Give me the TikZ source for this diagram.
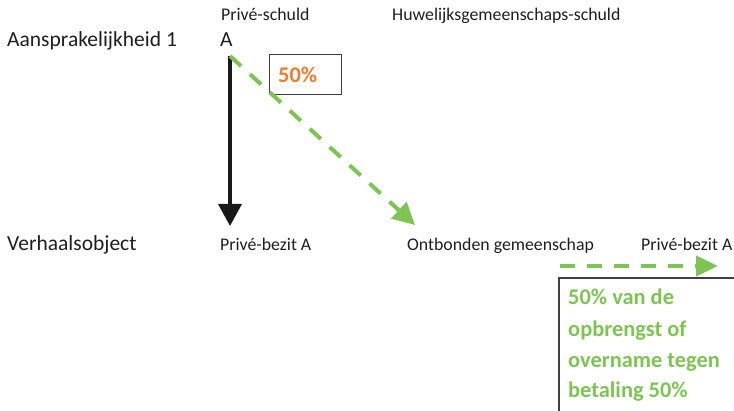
\documentclass[tikz,border=0pt]{standalone}
\usepackage{fontspec}
\setmainfont{Carlito}
\usetikzlibrary{arrows.meta}
\definecolor{gr}{RGB}{125,196,85}
\definecolor{orng}{RGB}{237,125,49}
\definecolor{txt}{RGB}{30,30,30}
\begin{document}
\begin{tikzpicture}[x=1pt,y=-1pt,
  big/.style={anchor=base west,inner sep=0pt,text=txt,font=\fontsize{21.5}{24}\selectfont},
  small/.style={anchor=base west,inner sep=0pt,text=txt,font=\fontsize{17.8}{20}\selectfont},
  boldtxt/.style={anchor=base west,inner sep=0pt,font=\fontsize{22.4}{24}\selectfont\bfseries},
  blackarrow/.style={line width=3.6pt,draw=black!90,-{Triangle[width=23pt,length=22pt]}},
  greenarrow/.style={line width=4pt,draw=gr,dash pattern=on 15pt off 12pt,-{Triangle[width=22pt,length=22pt]}},
  boxstyle/.style={draw=black!75,line width=1.2pt}]
\useasboundingbox (0,0) rectangle (734,411);
\clip (0,0) rectangle (734,411);
% top labels
\node[small] (ps) at (221,21) {Privé-schuld};
\node[small] (hs) at (392,21) {Huwelijksgemeenschaps-schuld};
\node[big] (aans) at (7,47) {Aansprakelijkheid\hspace{5pt}1};
\node[big] (A) at (220,47) {A};
% bottom labels
\node[big] (vo) at (7,251) {Verhaalsobject};
\node[small] (pb1) at (220,251) {Privé-bezit A};
\node[small] (og) at (407,251) {Ontbonden gemeenschap};
\node[small] (pb2) at (641,251) {Privé-bezit A};
% orange box
\draw[boxstyle,line width=1pt] (269,55) rectangle (341,95);
\node[boldtxt,text=orng] (p50) at (278,83) {50\%};
% arrows
\coordinate (s) at (230,56);
\coordinate (t1) at (230,226);
\coordinate (t2) at (415,225);
\coordinate (h1) at (560,266);
\coordinate (h2) at (718,266);
\draw[blackarrow] (s) -- (t1);
\draw[greenarrow] (s) -- (t2);
\draw[greenarrow,-{Triangle[width=20pt,length=22pt]}] (h1) -- (h2);
% green text box
\draw[boxstyle] (559,278) rectangle (745,425);
\node[boldtxt,text=gr] (gt1) at (568,305) {50\% van de};
\node[boldtxt,text=gr] (gt2) at (568,337) {opbrengst of};
\node[boldtxt,text=gr] (gt3) at (568,368) {overname tegen};
\node[boldtxt,text=gr] (gt4) at (568,398) {betaling 50\%};
\end{tikzpicture}
\end{document}
